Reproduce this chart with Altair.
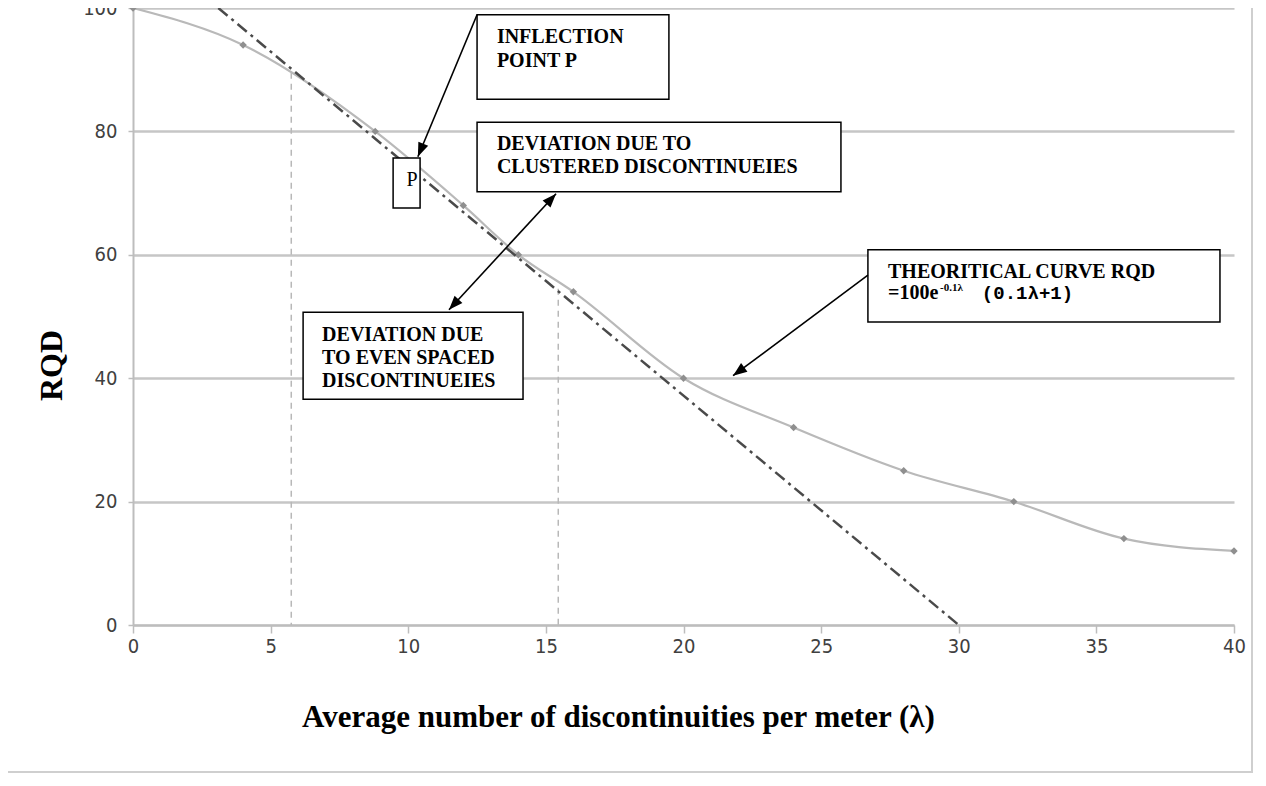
import altair as alt
import numpy as np
import pandas as pd

# ---- measured curve (grey line with markers) ----
lam = [0, 4, 8.8, 12, 14, 16, 20, 24, 28, 32, 36, 40]
rqd = [100, 94, 80, 68, 60, 54, 40, 32, 25, 20, 14, 12]

# ---- dash-dot tangent line ----
trend_lam = [3.1, 30.0]
trend_rqd = [100, 0]

# ---- vertical dashed guide lines ----
guide_lam = [5.75, 15.45]
guide_top = [89.5, 54.5]
guide_bottom = [0, 0]

x_ticks = [0, 5, 10, 15, 20, 25, 30, 35, 40]
y_ticks = [0, 20, 40, 60, 80, 100]

# ---- annotation boxes (data units) ----
box_x1 = [12.5, 9.45, 12.5, 6.18, 26.7]
box_x2 = [19.47, 10.43, 25.72, 14.17, 39.49]
box_top = [98.9, 75.7, 81.5, 50.7, 60.8]
box_bottom = [85.2, 67.6, 70.2, 36.6, 49.1]

label_text = ["INFLECTION", "POINT P", "DEVIATION DUE TO", "CLUSTERED DISCONTINUEIES",
              "DEVIATION DUE", "TO EVEN SPACED", "DISCONTINUEIES",
              "THEORITICAL CURVE RQD", "=100e"]
label_x = [13.22, 13.22, 13.22, 13.22, 6.87, 6.87, 6.87, 27.43, 27.43]
label_y = [95.3, 91.4, 78.0, 74.2, 47.0, 43.3, 39.5, 57.2, 53.8]

p_text = ["P"]
p_x = [10.14]
p_y = [72.1]
sup_text = ["-0.1λ"]
sup_x = [29.32]
sup_y = [54.7]
mono_text = ["(0.1λ+1)"]
mono_x = [30.84]
mono_y = [53.8]

arrow_x1 = [12.50, 15.37, 26.70]
arrow_y1 = [98.9, 69.9, 56.7]
arrow_x2 = [10.35, 11.48, 21.80]
arrow_y2 = [75.9, 51.1, 40.4]
arrow_double = [False, True, False]

W, H = 1101, 617
XMAX, YMAX = 40, 100

xs = alt.Scale(domain=[0, XMAX], nice=False, zero=False)
ys = alt.Scale(domain=[0, YMAX], nice=False, zero=False)

TICK_FONT = "DejaVu Sans Condensed, DejaVu Sans, sans-serif"

x_axis = alt.Axis(
    values=x_ticks, grid=False, format="d",
    title="Average number of discontinuities per meter (λ)",
    titleFont="Liberation Serif", titleFontSize=31, titleFontWeight="bold",
    titleColor="black", titleX=485, titleY=92, titleBaseline="middle", titleAlign="center",
    labelFont=TICK_FONT, labelFontSize=20, labelColor="#404040",
    labelBaseline="middle", labelPadding=13, tickSize=8, tickColor="#bdbdbd", tickWidth=1.5,
    domainColor="#bdbdbd", domainWidth=2, labelFlush=False,
)
y_axis = alt.Axis(
    values=y_ticks, grid=True, gridColor="#c6c6c6", gridWidth=2.5, format="d",
    title="RQD", titleFont="Liberation Serif", titleFontSize=32, titleFontWeight="bold",
    titleColor="black", titleAngle=270, titleX=-82, titleY=357,
    titleBaseline="middle", titleAlign="center",
    labelFont=TICK_FONT, labelFontSize=20, labelColor="#404040",
    labelPadding=11, tickSize=5, tickColor="#bdbdbd", tickWidth=1.5,
    domainColor="#bdbdbd", domainWidth=2, labelFlush=False,
)


def X(f):
    return alt.X(f, type="quantitative", scale=xs, axis=x_axis)


def Y(f):
    return alt.Y(f, type="quantitative", scale=ys, axis=y_axis)


curve_df = pd.DataFrame({"lam": lam, "rqd": rqd})
trend_df = pd.DataFrame({"lam": trend_lam, "rqd": trend_rqd})
guide_df = pd.DataFrame({"lam": guide_lam, "top": guide_top, "bottom": guide_bottom})
box_df = pd.DataFrame({"x1": box_x1, "x2": box_x2, "top": box_top, "bottom": box_bottom})
lab_df = pd.DataFrame({"x": label_x, "y": label_y, "t": label_text})
p_df = pd.DataFrame({"x": p_x, "y": p_y, "t": p_text})
sup_df = pd.DataFrame({"x": sup_x, "y": sup_y, "t": sup_text})
mono_df = pd.DataFrame({"x": mono_x, "y": mono_y, "t": mono_text})
arrow_df = pd.DataFrame({"x1": arrow_x1, "y1": arrow_y1, "x2": arrow_x2, "y2": arrow_y2})

heads = []
for x1, y1, x2, y2, dbl in zip(arrow_x1, arrow_y1, arrow_x2, arrow_y2, arrow_double):
    dx = (x2 - x1) * W / XMAX
    dy = -(y2 - y1) * H / YMAX
    ang = float(np.degrees(np.arctan2(dx, -dy)) % 360)
    heads.append({"x": x2, "y": y2, "angle": ang})
    if dbl:
        heads.append({"x": x1, "y": y1, "angle": (ang + 180) % 360})
head_df = pd.DataFrame(heads)

frame = alt.Chart(pd.DataFrame({"a": [0]})).mark_rect(
    fill="white", fillOpacity=0, stroke="#cfcfcf", strokeWidth=2
).encode(x=alt.value(-130), x2=alt.value(1119), y=alt.value(-20), y2=alt.value(764))

guides = alt.Chart(guide_df).mark_rule(
    color="#b8b8b8", strokeDash=[6, 5], strokeWidth=1.5
).encode(x=X("lam"), y=Y("top"), y2="bottom")

curve = alt.Chart(curve_df).mark_line(
    color="#b9b9b9", strokeWidth=2.2, interpolate="monotone"
).encode(x=X("lam"), y=Y("rqd"))

markers = alt.Chart(curve_df).mark_point(
    shape="diamond", filled=True, color="#8f8f8f", size=55, opacity=1
).encode(x=X("lam"), y=Y("rqd"))

trend = alt.Chart(trend_df).mark_line(
    color="#4a4a4a", strokeWidth=2.5, strokeDash=[12, 5, 3, 5]
).encode(x=X("lam"), y=Y("rqd"))

boxes = alt.Chart(box_df).mark_rect(
    fill="white", stroke="black", strokeWidth=1.5
).encode(x=X("x1"), x2="x2", y=Y("top"), y2="bottom")

labels = alt.Chart(lab_df).mark_text(
    align="left", baseline="middle", font="Liberation Serif", fontSize=20,
    fontWeight="bold", color="black"
).encode(x=X("x"), y=Y("y"), text="t:N")

p_label = alt.Chart(p_df).mark_text(
    align="center", baseline="middle", font="Liberation Serif", fontSize=20, color="black"
).encode(x=X("x"), y=Y("y"), text="t:N")

sup_label = alt.Chart(sup_df).mark_text(
    align="left", baseline="middle", font="Liberation Serif", fontSize=11,
    fontWeight="bold", color="black"
).encode(x=X("x"), y=Y("y"), text="t:N")

mono_label = alt.Chart(mono_df).mark_text(
    align="left", baseline="middle", font="Liberation Mono", fontSize=19,
    fontWeight="bold", color="black"
).encode(x=X("x"), y=Y("y"), text="t:N")

arrows = alt.Chart(arrow_df).mark_rule(color="black", strokeWidth=1.6).encode(
    x=X("x1"), y=Y("y1"), x2="x2", y2="y2"
)

arrow_heads = alt.Chart(head_df).mark_point(
    shape="M0,0L-0.38,1L0.38,1Z", filled=True, color="black", size=784, opacity=1
).encode(x=X("x"), y=Y("y"), angle=alt.Angle("angle:Q", scale=None))

chart = alt.layer(
    frame, guides, curve, markers, trend, boxes, labels, p_label, sup_label,
    mono_label, arrows, arrow_heads
).properties(
    width=W, height=H,
    autosize=alt.AutoSizeParams(type="none"),
    padding={"left": 125, "top": 0, "right": 24, "bottom": 153},
    background="white",
).configure_view(stroke=None)

chart.save("out.html", embed_options={"renderer": "svg", "actions": False})
